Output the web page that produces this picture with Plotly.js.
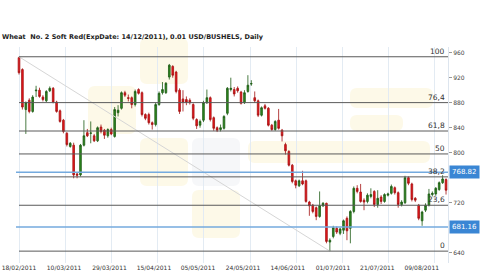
<!DOCTYPE html>
<html><head><meta charset="utf-8">
<script src="https://cdn.plot.ly/plotly-3.0.1.min.js"></script>
<style>html,body{margin:0;padding:0;background:#fff}#chart{width:500px;height:279px}</style>
</head><body><div id="chart"></div>
<script>
// ---- data ----
const openP  = [952,933,869,884,866,899,900,889,883,899,903,881,867,852,831,810,812,766,764.5,812,832,831,827,819,841,836,827,837,826,864,871,896,888,888,877,901,896,861,861,848,845,877,896,896,921,938,929,900,886,885,884,877,853,844,852,880,888,856,840,837,839,863,901,901,903,897,880,898,910,888,883,860,875,871,844,837,852,836,813,802,780,755,747,755,755,721,716,712,698,715,719,657,666,679,671,676,695,679,706,743,737,724,722,730,738,717,729,722,732,735,744,736,717,720,760,750,727,716,691,708,716,733,734,741,752,757];
const highP  = [953.5,935,882,887,892,907,904,892,900,906,905,883,869,854,833,817,816,768,814,852,838,850,830,842,845,838,839,840,873,876,898,899,893,890,901,903,898,863,864,850,880,898,913,913,942,940,931,903,900,890,887,879,855,853,883,901,890,858,842,845,860,905,920,905,906,899,900,924,916,898,885,874,878,873,846,852,870,838,816,804,782,757,757,771,757,723,718,714,738,721,720,663,683,682,680,693,698,708,746,748,750,727,735,743,740,740,732,735,736,749,746,738,724,763,762,752,729,718,707,719,742,738,745,754,764,759];
const lowP   = [925,869,830,863,864,889,888,882,881,897,879,864,848,831,810,808,759,759,762,810,825,815,817,817,831,822,824,828,824,858,869,889,882,871,874,893,858,852,845,837,842,875,893,894,917,920,895,862,866,876,877,852,838,840,849,878,850,835,833,834,837,860,898,890,896,877,878,896,907,880,857,858,869,842,835,835,837,818,797,778,751,743,745,748,720,699,703,692,696,713,655,642.5,663,670,668,670,660,655,703,735,720,708,719,727,713,712,718,720,730,733,733,712,714,718,748,722,721,692,683,705,714,730,731,739,750,733];
const closeP = [928,873,880,866,889,900,890,885,898,903,881,866,850,834,813,815,764.5,764,812,827,827,831.5,819,840,834,828,837,830,869,868,896,892,887,877,898,895,861,855,848,845,877,895,901,911,940,924,898,866,881,881,880,855,843,850,880,888,853,839,836,840,858,903,903,894,899,879,896,908,910.5,883,860,872,871,844,837,850,839,827,803,780,754,748,755,750,722,715,706,698,715,719,658,660,680,673,678,691,675,706,743,738,722,721,732,733,717,727,722,733,734,746,736,717,721,760,751,725,724,695,705,716,734,735,743,752,758,740];
const tickLabels = ['18/02/2011','10/03/2011','29/03/2011','15/04/2011','05/05/2011','24/05/2011','14/06/2011','01/07/2011','21/07/2011','09/08/2011'];
const fibPercents = [0, 23.6, 38.2, 50, 61.8, 76.4, 100];
const priceLines = [768.82, 681.16];
const yTicks = [640, 720, 800, 840, 880, 920, 960];
const fibHighIndex = 0, fibLowIndex = 91;

// ---- layout config ----
const idx = openP.map((_, i) => i);
const xMin = -0.88, xMax = 125.58;
const tickPos = [0, 13.2, 26.5, 39.5, 52.4, 65.6, 78.7, 91.9, 104.9, 117.9];
const gridPos = [0, 13.52, 27.05, 40.57, 54.1, 67.62, 81.15, 94.67, 108.2, 121.7];
const FONT = 'DejaVu Sans, Verdana, sans-serif';

const fibHigh = highP[fibHighIndex], fibLow = lowP[fibLowIndex];
const traces = [];

traces.push({type:'scatter', mode:'lines', x:[fibHighIndex, fibLowIndex], y:[fibHigh, fibLow],
  line:{color:'#d6d6d6', width:1}, hoverinfo:'skip', showlegend:false});

const annotations = [];
fibPercents.forEach(p => {
  const v = fibLow + (fibHigh - fibLow) * p / 100;
  traces.push({type:'scatter', mode:'lines', x:[fibHighIndex, xMax], y:[v, v],
    line:{color:'#5a5a5a', width:1}, hoverinfo:'skip', showlegend:false});
  annotations.push({xref:'paper', yref:'y', x:1, y:v, xanchor:'right', yanchor:'bottom', xshift:-1, yshift:-1,
    text:String(p).replace('.', ','), showarrow:false, font:{family:FONT, size:7.5, color:'#333'}});
});

priceLines.forEach(v => {
  traces.push({type:'scatter', mode:'lines', x:[xMin, xMax], y:[v, v],
    line:{color:'#74aade', width:1.5}, hoverinfo:'skip', showlegend:false});
  annotations.push({xref:'paper', yref:'y', x:1, y:v, xanchor:'left', yanchor:'middle', xshift:1,
    text:v.toFixed(2), showarrow:false, bgcolor:'#3a86d4', borderpad:2,
    font:{family:FONT, size:7, color:'#ffffff'}});
});

traces.push({type:'candlestick', x:idx, open:openP, high:highP, low:lowP, close:closeP,
  increasing:{line:{color:'#1d5a14', width:0.8}, fillcolor:'#2e8a1f'},
  decreasing:{line:{color:'#a31212', width:0.8}, fillcolor:'#e8161c'},
  whiskerwidth:0, hoverinfo:'skip', showlegend:false});

// faint background watermark (decoration), pixel boxes converted to paper coords
const PL = 16, PW = 432, PT = 47, PH = 216;
function wm(x0, y0, x1, y1, color) {
  const r = 7;
  const X = px => (px - PL) / PW, Y = py => (PT + PH - py) / PH;
  const path = `M${X(x0+r)},${Y(y0)} L${X(x1-r)},${Y(y0)} Q${X(x1)},${Y(y0)} ${X(x1)},${Y(y0+r)} ` +
    `L${X(x1)},${Y(y1-r)} Q${X(x1)},${Y(y1)} ${X(x1-r)},${Y(y1)} L${X(x0+r)},${Y(y1)} ` +
    `Q${X(x0)},${Y(y1)} ${X(x0)},${Y(y1-r)} L${X(x0)},${Y(y0+r)} Q${X(x0)},${Y(y0)} ${X(x0+r)},${Y(y0)} Z`;
  return {type:'path', xref:'paper', yref:'paper', path, fillcolor:color, line:{width:0}, layer:'below'};
}
const Y1 = '#fdf9e8', G1 = '#f6f7f9';
const shapes = [
  wm(140, 38, 188, 84, Y1),
  wm(88, 86, 136, 134, Y1),
  wm(140, 138, 188, 186, Y1),
  wm(192, 138, 240, 186, G1),
  wm(192, 190, 240, 238, Y1),
  wm(248, 141, 430, 163, Y1),
  wm(350, 88, 433, 108, Y1),
  wm(350, 115, 403, 131, Y1)
];

const layout = {
  width:500, height:279,
  margin:{l:16, r:52, t:47, b:16, pad:0},
  paper_bgcolor:'#ffffff', plot_bgcolor:'#ffffff',
  showlegend:false,
  title:{text:'Wheat\u00a0 No. 2 Soft Red(ExpDate: 14/12/2011), 0.01 USD/BUSHELS, Daily',
    x:0.004, xref:'container', xanchor:'left', y:1-37/279, yref:'container', yanchor:'middle',
    font:{family:FONT, size:6.5, color:'#222', weight:'bold'}},
  xaxis:{range:[xMin, xMax], tickmode:'array', tickvals:tickPos, ticktext:tickLabels,
    tickfont:{family:FONT, size:6, color:'#333'}, ticks:'', showgrid:false, zeroline:false, showline:false,
    rangeslider:{visible:false},
    minor:{tickmode:'array', tickvals:gridPos, showgrid:true, gridcolor:'#e3ebf3', gridwidth:1, ticks:''}},
  yaxis:{range:[623.5, 969.1], side:'right', tickmode:'array', tickvals:yTicks,
    tickfont:{family:FONT, size:6, color:'#444'}, ticks:'outside', ticklen:3, tickcolor:'#999',
    showgrid:false, zeroline:false, showline:true, linecolor:'#dde5ee', linewidth:1},
  shapes: shapes,
  annotations: annotations
};

Plotly.newPlot('chart', traces, layout, {staticPlot:true, displayModeBar:false});
</script></body></html>
